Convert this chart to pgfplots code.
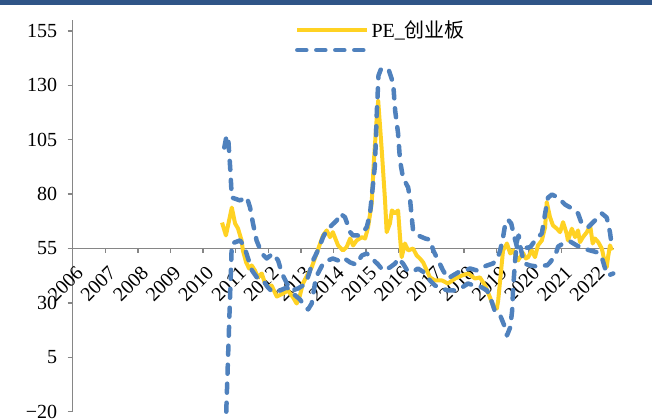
\documentclass[border=0pt]{standalone}
\usepackage{fontspec}
\setmainfont{Liberation Serif}
\newfontfamily\cjk{Noto Sans CJK SC}
\usepackage{pgfplots}
\usepackage{pgfplotstable}
\pgfplotsset{compat=1.18}

\definecolor{peyellow}{RGB}{255,210,35}
\definecolor{bandblue}{RGB}{79,129,189}
\definecolor{axisgray}{RGB}{134,134,134}
\definecolor{topbar}{RGB}{47,85,135}

% PE of ChiNext (yellow)
\pgfplotstableread{
x y
2010.58 66.9
2010.70 61.0
2010.88 73.8
2010.98 66.5
2011.07 64.2
2011.18 58.7
2011.22 54.1
2011.32 48.6
2011.41 45.8
2011.49 47.2
2011.59 44.9
2011.68 41.7
2011.80 43.5
2011.90 38.9
2011.99 37.1
2012.10 38.0
2012.26 32.9
2012.45 34.3
2012.60 35.7
2012.76 32.5
2012.87 29.7
2012.97 33.4
2013.06 38.9
2013.22 43.5
2013.33 46.3
2013.48 52.7
2013.59 57.3
2013.68 61.0
2013.79 63.3
2013.89 60.2
2013.98 62.5
2014.10 57.9
2014.14 56.4
2014.29 54.1
2014.40 55.6
2014.51 59.6
2014.60 56.4
2014.71 58.7
2014.87 60.2
2014.97 59.6
2015.06 64.8
2015.17 75.7
2015.24 95.4
2015.32 113.8
2015.37 123.0
2015.48 100.0
2015.58 77.1
2015.63 62.5
2015.73 66.5
2015.79 72.5
2015.89 71.1
2015.98 72.5
2016.04 60.2
2016.09 51.0
2016.19 57.3
2016.29 54.1
2016.44 55.0
2016.55 51.8
2016.65 50.4
2016.75 48.6
2016.86 44.9
2016.96 41.7
2017.11 40.3
2017.33 40.3
2017.51 38.9
2017.73 41.2
2017.94 42.6
2018.13 43.5
2018.34 41.2
2018.49 41.7
2018.65 38.0
2018.80 32.5
2018.89 28.8
2019.01 27.4
2019.05 31.0
2019.14 44.9
2019.20 54.1
2019.32 57.3
2019.42 52.7
2019.51 54.1
2019.66 49.5
2019.81 53.0
2019.90 50.4
2019.97 51.0
2020.08 54.1
2020.18 51.0
2020.27 56.4
2020.39 58.7
2020.49 64.8
2020.54 76.3
2020.64 69.4
2020.73 65.6
2020.85 64.1
2020.95 62.5
2021.04 67.1
2021.15 61.9
2021.19 58.7
2021.31 64.1
2021.41 60.2
2021.50 63.3
2021.56 57.9
2021.65 60.2
2021.77 62.5
2021.87 65.6
2021.95 57.3
2022.02 59.6
2022.12 57.9
2022.23 54.9
2022.33 48.1
2022.38 46.4
2022.42 51.0
2022.48 56.4
2022.54 54.1
}\petable

% upper band (blue dashed)
\pgfplotstableread{
x y
2010.65 101.4
2010.72 106.9
2010.77 105.6
2010.83 92.2
2010.88 78.4
2011.13 77.1
2011.34 78.6
2011.44 73.8
2011.53 66.5
2011.64 58.7
2011.80 52.7
2011.95 50.4
2012.14 52.7
2012.30 49.5
2012.42 43.5
2012.57 38.9
2012.73 35.7
2012.91 36.6
2013.06 38.0
2013.18 40.3
2013.28 44.9
2013.37 49.5
2013.52 54.1
2013.68 60.2
2013.79 63.3
2013.94 65.6
2014.10 67.9
2014.20 71.1
2014.35 69.4
2014.44 65.6
2014.51 62.5
2014.60 61.0
2014.75 61.0
2014.90 62.5
2015.02 64.8
2015.12 71.1
2015.17 78.4
2015.27 93.1
2015.33 118.4
2015.38 134.5
2015.46 137.7
2015.58 137.7
2015.70 136.8
2015.83 130.8
2015.89 118.4
2015.98 107.9
2016.04 95.4
2016.13 87.6
2016.29 83.0
2016.35 77.1
2016.40 69.2
2016.44 63.3
2016.59 61.0
2016.81 59.6
2016.96 59.0
2017.06 54.1
2017.21 49.5
2017.36 44.9
2017.51 41.2
2017.66 42.6
2017.82 44.0
2018.03 44.9
2018.19 45.8
2018.40 44.9
2018.56 46.3
2018.71 47.2
2018.89 48.1
2019.03 50.4
2019.11 54.1
2019.20 60.1
2019.27 66.5
2019.35 68.3
2019.45 66.5
2019.55 60.1
2019.63 55.6
2019.77 55.0
2020.03 55.6
2020.23 59.6
2020.39 61.9
2020.49 71.1
2020.58 78.4
2020.70 79.8
2020.89 78.4
2021.10 75.2
2021.31 73.4
2021.50 71.1
2021.61 66.5
2021.81 64.8
2022.02 67.9
2022.23 71.1
2022.38 69.2
2022.48 62.4
2022.54 55.5
}\uppertable

% lower band (blue dashed)
\pgfplotstableread{
x y
2010.71 -20.0
2010.88 57.3
2011.13 58.7
2011.25 56.4
2011.38 50.4
2011.50 44.9
2011.65 41.7
2011.84 40.3
2011.99 37.1
2012.11 35.2
2012.36 35.7
2012.57 37.1
2012.76 34.3
2012.97 31.6
2013.10 28.8
2013.22 27.0
2013.33 29.7
2013.43 38.9
2013.52 43.5
2013.68 48.1
2013.83 49.5
2013.98 50.4
2014.14 49.5
2014.29 50.9
2014.51 48.6
2014.69 47.6
2014.87 51.8
2015.02 52.7
2015.18 50.4
2015.37 47.6
2015.52 44.9
2015.73 46.3
2015.89 48.1
2015.98 50.5
2016.13 48.1
2016.26 44.9
2016.44 44.4
2016.59 45.8
2016.78 44.0
2016.96 40.3
2017.11 38.0
2017.33 36.6
2017.51 35.7
2017.73 35.7
2017.94 37.1
2018.13 38.9
2018.30 38.0
2018.49 37.6
2018.71 35.7
2018.86 30.3
2018.96 25.7
2019.11 24.3
2019.26 18.8
2019.32 15.0
2019.42 18.8
2019.48 26.5
2019.51 37.1
2019.57 49.5
2019.63 58.7
2019.68 61.0
2019.74 55.0
2019.85 48.1
2020.03 47.2
2020.24 46.7
2020.40 47.2
2020.55 47.2
2020.64 48.6
2020.80 51.8
2020.89 55.9
2021.04 57.3
2021.26 58.2
2021.46 56.4
2021.65 55.0
2021.87 54.1
2022.07 53.3
2022.23 50.9
2022.33 45.8
2022.42 42.6
2022.58 43.5
}\lowertable

\begin{document}
\begin{tikzpicture}
\path[use as bounding box] (-72.7pt,-7.3pt) rectangle (579.3pt,411.7pt);
\fill[topbar] (-72.7pt,406.7pt) rectangle (579.3pt,411.7pt);
\begin{axis}[
  at={(0pt,0pt)}, anchor=south west,
  scale only axis, width=541.2pt, height=391.7pt,
  xmin=2006, xmax=2022.6, ymin=-20, ymax=160,
  axis x line=none, axis y line*=left,
  y axis line style={axisgray, line width=1.3pt},
  xtick=\empty,
  ytick={-20,5,30,55,80,105,130,155},
  yticklabels={−20,5,30,55,80,105,130,155},
  ytick style={axisgray, line width=1.3pt},
  tick align=outside, major tick length=5pt,
  yticklabel style={font=\fontsize{20}{24}\selectfont, xshift=-7pt},
  clip=false,
  legend style={draw=none, fill=none, font=\fontsize{20}{24}\selectfont,
    at={(0.405,1.008)}, anchor=north west, legend cell align=left, row sep=6pt},
  legend image code/.code={\draw[#1] (0pt,0pt) -- (70pt,0pt);},
]
\draw[axisgray, line width=1.3pt] (axis cs:2006,55) -- (axis cs:2022.6,55);
\pgfplotsinvokeforeach{2006,...,2022}{
  \draw[axisgray, line width=1.3pt] (axis cs:#1,55) -- ++(0pt,-5pt);
  \node[rotate=45, anchor=east, inner sep=0pt, xshift=-10pt, yshift=-20pt,
    font=\fontsize{20}{24}\selectfont] at (axis cs:#1,55) {#1};
}
\addplot[peyellow, line width=4pt, line join=round] table {\petable};
\addlegendentry{PE\_{\cjk 创业板}}
\addplot[bandblue, line width=4.5pt, line cap=round, line join=round,
  dash pattern=on 9pt off 10pt] table {\uppertable};
\addlegendentry{}
\addplot[bandblue, line width=4.5pt, line cap=round, line join=round,
  dash pattern=on 9pt off 10pt, forget plot] table {\lowertable};
\end{axis}
\end{tikzpicture}
\end{document}
